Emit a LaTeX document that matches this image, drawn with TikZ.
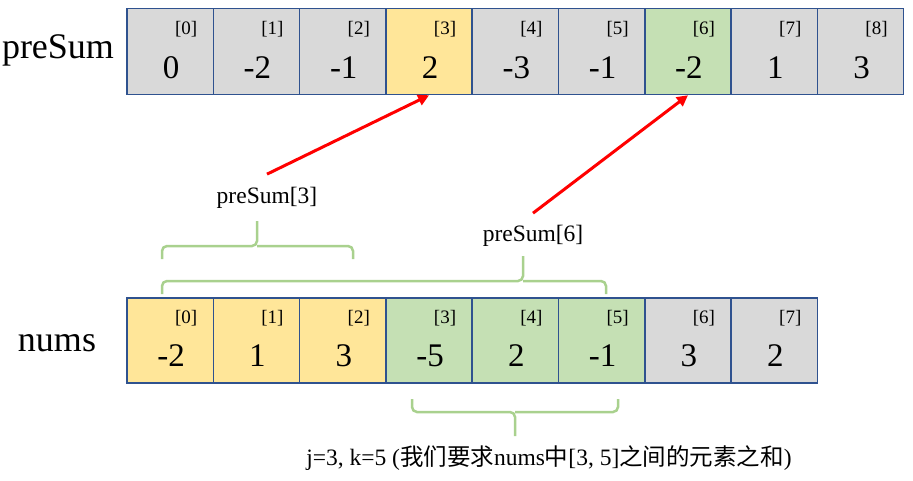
\documentclass[tikz,border=0pt]{standalone}
\usepackage{fontspec}
\setmainfont{Liberation Serif}
\newfontfamily\cjkfont{Noto Sans CJK SC}
\usetikzlibrary{calc,positioning,arrows.meta}

\definecolor{cellgray}{HTML}{D9D9D9}
\definecolor{cellyellow}{HTML}{FFE699}
\definecolor{cellgreen}{HTML}{C5E0B4}
\definecolor{cellborder}{HTML}{2F528F}
\definecolor{bracegreen}{HTML}{A9D18E}

\newcommand{\zh}[1]{{\cjkfont #1}}

\begin{document}
\begin{tikzpicture}[x=1pt,y=-1pt,
  cell/.style={draw=cellborder,line width=1.5pt,rectangle,minimum width=86.3pt,minimum height=86pt,inner sep=0pt},
  val/.style={font=\fontsize{33}{36}\selectfont,inner sep=0pt},
  idx/.style={font=\fontsize{19}{22}\selectfont,inner sep=0pt},
  rowname/.style={font=\fontsize{36}{40}\selectfont,inner sep=0pt},
  lbl/.style={font=\fontsize{23.5}{26}\selectfont,inner sep=0pt},
  curly/.style={draw=bracegreen,line width=2.5pt,rounded corners=5pt},
  pointer/.style={draw=red,line width=3pt,-{Triangle[length=11pt,width=11pt]}}
  ]
  \useasboundingbox (0,0) rectangle (913,480);

  % preSum row
  \node [rowname] at (58,50) (presum_name) {preSum};
  \foreach \v/\c [count=\i from 0] in {0/cellgray,-2/cellgray,-1/cellgray,2/cellyellow,-3/cellgray,-1/cellgray,-2/cellgreen,1/cellgray,3/cellgray}{
    \node [cell,fill=\c] at (170.15+86.3*\i,51.5) (p\i) {};
    \node [val] at ($(p\i)+(1,16)$) (pv\i) {\v};
    \node [idx] at ($(p\i)+(16,-22.5)$) (pi\i) {[\i]};
  }

  % nums row
  \node [rowname] at (57,343) (nums_name) {nums};
  \foreach \v/\c [count=\i from 0] in {-2/cellyellow,1/cellyellow,3/cellyellow,-5/cellgreen,2/cellgreen,-1/cellgreen,3/cellgray,2/cellgray}{
    \node [cell,fill=\c,minimum height=85pt] at (170.15+86.3*\i,340.5) (n\i) {};
    \node [val] at ($(n\i)+(1,15)$) (nv\i) {\v};
    \node [idx] at ($(n\i)+(16,-22)$) (ni\i) {[\i]};
  }

  % braces
  \draw [curly] (162,259) -- (162,246) -- (257,246) -- (257,221);
  \draw [curly] (353,259) -- (353,246) -- (257,246);
  \draw [curly] (162,294) -- (162,281) -- (523,281) -- (523,256);
  \draw [curly] (606,294) -- (606,281) -- (523,281);
  \draw [curly] (412,399) -- (412,412) -- (515,412) -- (515,436);
  \draw [curly] (618,399) -- (618,412) -- (515,412);

  \node [lbl] at (267,198) (ps3) {preSum[3]};
  \node [lbl] at (533,236) (ps6) {preSum[6]};
  \node [lbl] at (549,458) (note) {j=3, k=5 (\zh{我们要求}nums\zh{中}[3, 5]\zh{之间的元素之和})};

  \draw [pointer] ([yshift=13pt]ps3.north) -- (p3.south);
  \draw [pointer] ([yshift=12pt]ps6.north) -- (p6.south);

\end{tikzpicture}
\end{document}
